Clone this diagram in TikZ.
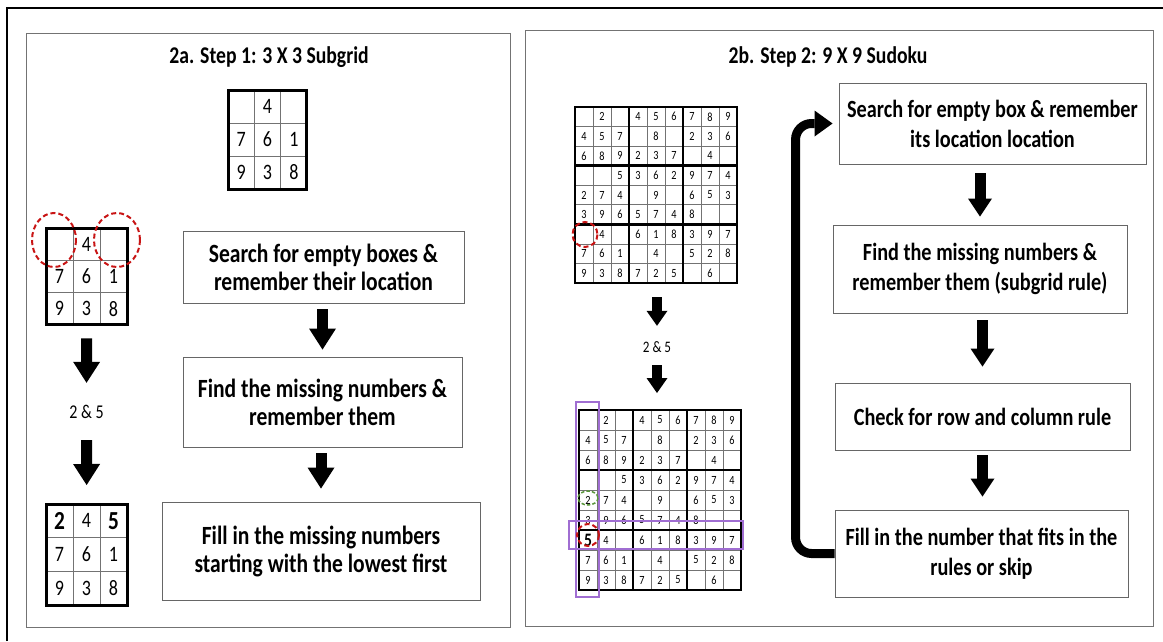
\documentclass[tikz,border=0pt]{standalone}
\usepackage{fontspec}
\setmainfont{Carlito}[FakeStretch=0.82]
\usetikzlibrary{arrows.meta}

\definecolor{markred}{RGB}{200,20,20}
\definecolor{markgreen}{RGB}{90,150,60}
\definecolor{markpurple}{RGB}{160,110,210}

\newcommand{\nocell}{}
\newcommand{\hl}[1]{{\bfseries\fontsize{26}{26}\selectfont #1}}
\newcommand{\hls}[1]{{\bfseries\fontsize{19}{19}\selectfont #1}}

\tikzset{
  frameline/.style={line width=1.6pt},
  panel/.style={draw=black!55, line width=1.3pt, inner sep=0pt, anchor=north west},
  paneltitle/.style={font=\bfseries\fontsize{24}{24}\selectfont},
  flowbox/.style={draw=black!60, line width=0.9pt, align=center, inner sep=0pt},
  leftbox/.style={flowbox, font=\bfseries\fontsize{26.3}{28}\selectfont},
  rightbox/.style={flowbox, font=\bfseries\fontsize{24.7}{30}\selectfont},
  gridthin/.style={draw=black!55, line width=0.8pt},
  gridthick/.style={draw=black, line width=2.6pt, line cap=rect},
  smallnum/.style={font=\fontsize{22}{22}\selectfont, inner sep=0pt},
  tinynum/.style={font=\fontsize{12.5}{12.5}\selectfont, inner sep=0pt},
  bigarrow/.style={line width=11pt, -{Triangle[width=27pt,length=21pt,line width=0pt]}},
  midarrow/.style={line width=11pt, -{Triangle[width=24pt,length=18pt,line width=0pt]}},
  smallarrow/.style={line width=10pt, -{Triangle[width=21pt,length=15pt,line width=0pt]}},
  looparrow/.style={line width=9pt, rounded corners=16pt, -{Triangle[width=26pt,length=18pt,line width=0pt]}},
  reddash/.style={draw=markred, dash pattern=on 5pt off 3pt, line width=2pt},
  greendash/.style={draw=markgreen, dash pattern=on 3.5pt off 2pt, line width=1.5pt},
  purplebox/.style={draw=markpurple, line width=1.8pt},
}

% 3x3 subgrid: name, x, y, cell width, cell height, rows
\newcommand{\subgrid}[6]{%
  \node[inner sep=0pt, minimum width=3*#4, minimum height=3*#5, anchor=north west] (#1) at (#2,#3) {};
  \begin{scope}[shift={(#2,#3)}]
    \foreach \i in {1,2} {
      \draw[gridthin] (\i*#4,0) -- (\i*#4,3*#5);
      \draw[gridthin] (0,\i*#5) -- (3*#4,\i*#5);
    }
    \draw[gridthick, line width=3pt] (0,0) rectangle (3*#4,3*#5);
    \foreach \row [count=\r from 0] in {#6} {
      \foreach \v [count=\c from 0] in \row
        \node[smallnum] at ({(\c+.5)*#4},{(\r+.5)*#5}) {\v};
    }
  \end{scope}}

% 9x9 sudoku: name, x, y, cell width, cell height, rows
\newcommand{\sudokugrid}[6]{%
  \node[inner sep=0pt, minimum width=9*#4, minimum height=9*#5, anchor=north west] (#1) at (#2,#3) {};
  \begin{scope}[shift={(#2,#3)}]
    \foreach \i in {1,...,8} {
      \draw[gridthin] (\i*#4,0) -- (\i*#4,9*#5);
      \draw[gridthin] (0,\i*#5) -- (9*#4,\i*#5);
    }
    \foreach \i in {0,3,6,9} {
      \draw[gridthick] (\i*#4,0) -- (\i*#4,9*#5);
      \draw[gridthick] (0,\i*#5) -- (9*#4,\i*#5);
    }
    \foreach \row [count=\r from 0] in {#6} {
      \foreach \v [count=\c from 0] in \row
        \node[tinynum] at ({(\c+.5)*#4},{(\r+.5)*#5}) {\v};
    }
  \end{scope}}

\begin{document}
\begin{tikzpicture}[x=1pt, y=-1pt]
  \useasboundingbox (0,0) rectangle (1163,641);
  \draw[frameline] (7,641) -- (7,8) -- (1163,8);

  % step 1
  \node[panel, minimum width=484, minimum height=594] (leftpanel) at (26,33) {};
  \node[paneltitle] (titleA) at (269,57) {2a. Step 1: 3 X 3 Subgrid};

  \subgrid{gA}{228}{90}{26.33}{33}{{\nocell,4,\nocell},{7,6,1},{9,3,8}}
  \subgrid{gB}{46}{228}{27}{32.33}{{\nocell,4,\nocell},{7,6,1},{9,3,8}}
  \subgrid{gC}{46}{504}{27}{33.67}{{\hl{2},4,\hl{5}},{7,6,1},{9,3,8}}
  \draw[reddash] (54,240) ellipse [x radius=22, y radius=27];
  \draw[reddash] (117,240) ellipse [x radius=23, y radius=27];

  \node[font=\fontsize{19.5}{19.5}\selectfont, minimum height=40pt, inner sep=0pt] (twofiveA) at (86.5,412) {2 \& 5};
  \draw[bigarrow, shorten <=13pt, shorten >=9pt] (gB.south) -- (twofiveA.north);
  \draw[bigarrow, shorten <=8pt, shorten >=19pt] (twofiveA.south) -- (gC.north);

  \node[leftbox, minimum width=281, minimum height=72] (l1) at (323.5,267) {Search for empty boxes \&\\remember their location};
  \node[leftbox, minimum width=279, minimum height=90] (l2) at (322.5,402) {Find the missing numbers \&\\remember them};
  \node[leftbox, minimum width=318, minimum height=98] (l3) at (321,551) {Fill in the missing numbers\\starting with the lowest first};
  \draw[bigarrow, shorten <=6pt, shorten >=7pt] (l1.south -| l2.north) -- (l2.north);
  \draw[bigarrow, shorten <=6pt, shorten >=13pt] (l2.south -| l3.north) -- (l3.north);

  % step 2
  \node[panel, minimum width=628, minimum height=596] (rightpanel) at (525,30) {};
  \node[paneltitle] (titleB) at (828,57) {2b. Step 2: 9 X 9 Sudoku};

  \sudokugrid{sA}{575}{107}{18}{19.56}{%
    {\nocell,2,\nocell,4,5,6,7,8,9},{4,5,7,\nocell,8,\nocell,2,3,6},{6,8,9,2,3,7,\nocell,4,\nocell},%
    {\nocell,\nocell,5,3,6,2,9,7,4},{2,7,4,\nocell,9,\nocell,6,5,3},{3,9,6,5,7,4,8,\nocell,\nocell},%
    {\nocell,4,\nocell,6,1,8,3,9,7},{7,6,1,\nocell,4,\nocell,5,2,8},{9,3,8,7,2,5,\nocell,6,\nocell}}
  \draw[reddash] (585,234.5) circle [radius=12.5];

  \sudokugrid{sB}{579}{410}{18}{20}{%
    {\nocell,2,\nocell,4,5,6,7,8,9},{4,5,7,\nocell,8,\nocell,2,3,6},{6,8,9,2,3,7,\nocell,4,\nocell},%
    {\nocell,\nocell,5,3,6,2,9,7,4},{2,7,4,\nocell,9,\nocell,6,5,3},{3,9,6,5,7,4,8,\nocell,\nocell},%
    {\hls{5},4,\nocell,6,1,8,3,9,7},{7,6,1,\nocell,4,\nocell,5,2,8},{9,3,8,7,2,5,\nocell,6,\nocell}}
  \draw[purplebox] (576,402) rectangle (599,597);
  \draw[purplebox] (569,521) rectangle (743,549);
  \draw[greendash] (588,498) ellipse [x radius=10, y radius=7];
  \draw[reddash] (588,535) circle [radius=11];

  \node[font=\fontsize{16}{16}\selectfont, minimum height=34pt, inner sep=0pt] (twofiveB) at (657,347) {2 \& 5};
  \draw[smallarrow, shorten <=14pt, shorten >=4pt] (sA.south -| twofiveB.north) -- (twofiveB.north);
  \draw[smallarrow, shorten <=1pt, shorten >=17pt] (twofiveB.south) -- (twofiveB.south |- sB.north);

  \node[rightbox, minimum width=307, minimum height=81] (r1) at (992.5,123.5) {Search for empty box \& remember\\its location location};
  \node[rightbox, minimum width=294, minimum height=88] (r2) at (980,269) {Find the missing numbers \&\\remember them (subgrid rule)};
  \node[rightbox, minimum width=295, minimum height=67] (r3) at (982.5,416.5) {Check for row and column rule};
  \node[rightbox, minimum width=293, minimum height=87] (r4) at (981.5,553.5) {Fill in the number that fits in the\\rules or skip};
  \draw[midarrow, shorten <=9pt, shorten >=8pt] (r1.south -| r2.north) -- (r2.north);
  \draw[midarrow, shorten <=7pt, shorten >=16pt] (r2.south -| r3.north) -- (r3.north);
  \draw[midarrow, shorten <=5pt, shorten >=13pt] (r3.south) -- (r3.south |- r4.north);
  \draw[looparrow, shorten >=6pt] (r4.west) -- ++(-39,0) |- (r1.west);
\end{tikzpicture}
\end{document}
